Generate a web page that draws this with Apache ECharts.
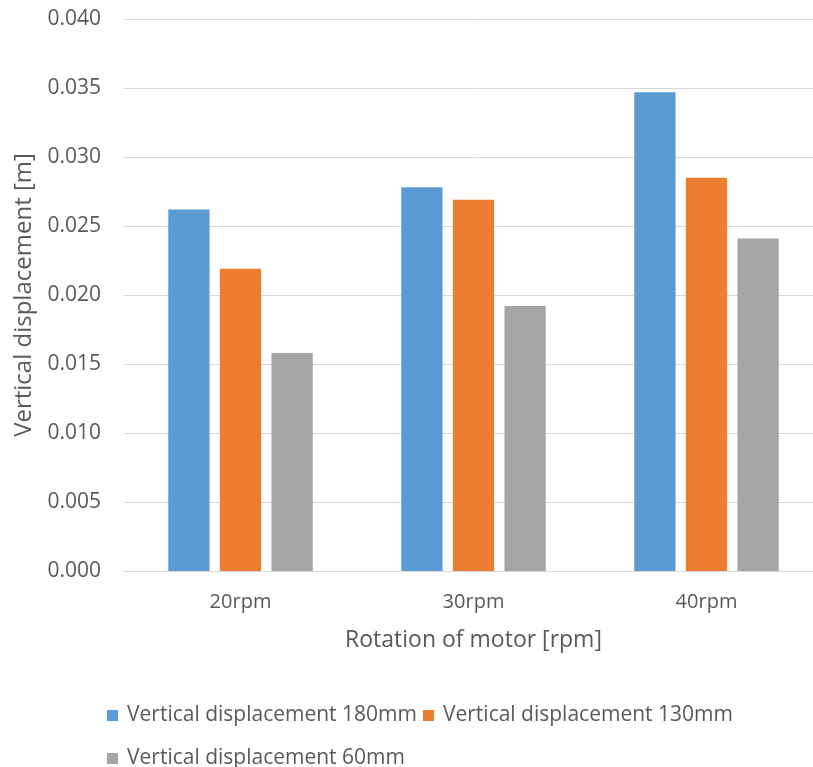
<!DOCTYPE html>
<html>
<head>
<meta charset="utf-8">
<script src="https://cdn.jsdelivr.net/npm/echarts@6/dist/echarts.min.js"></script>
<style>
  html, body { margin: 0; padding: 0; background: #fff; overflow: hidden; }
  #chart { width: 830px; height: 767px; }
</style>
</head>
<body>
<div id="chart"></div>
<script>
// Motor speeds on the x axis
const categories = ['20rpm', '30rpm', '40rpm'];

// Vertical displacement [m] for each measuring height
const disp180 = [0.0262, 0.0278, 0.0347];
const disp130 = [0.0219, 0.0269, 0.0285];
const disp60 = [0.0158, 0.0192, 0.0241];

const seriesNames = [
  'Vertical displacement 180mm',
  'Vertical displacement 130mm',
  'Vertical displacement 60mm'
];

const FONT = '"Open Sans", "Noto Sans", sans-serif';
const TEXT = '#595959';

const chart = echarts.init(document.getElementById('chart'), null, { renderer: 'canvas' });

const bar = (name, data, color) => ({
  name,
  type: 'bar',
  data,
  barGap: '25%',
  barCategoryGap: '38%',
  itemStyle: { color },
  emphasis: { disabled: true }
});

const legendText = { fontFamily: FONT, fontSize: 21, color: TEXT, padding: [0, 0, 0, 4] };

chart.setOption({
  animation: false,
  color: ['#5B9BD5', '#ED7D31', '#A5A5A5'],
  textStyle: { fontFamily: FONT, color: TEXT },
  grid: { left: 124, top: 19, width: 699, height: 552, containLabel: false },
  legend: [
    {
      data: [seriesNames[0], seriesNames[1]],
      left: 102, top: 700,
      itemWidth: 11, itemHeight: 11, itemGap: 6,
      icon: 'rect',
      textStyle: legendText
    },
    {
      data: [seriesNames[2]],
      left: 102, top: 743,
      itemWidth: 11, itemHeight: 11, itemGap: 6,
      icon: 'rect',
      textStyle: legendText
    }
  ],
  xAxis: {
    type: 'category',
    data: categories,
    name: 'Rotation of motor [rpm]',
    nameLocation: 'middle',
    nameGap: 58,
    nameTextStyle: { fontFamily: FONT, fontSize: 23, color: TEXT },
    axisLine: { show: true, lineStyle: { color: '#D9D9D9', width: 1 } },
    axisTick: { show: false },
    axisLabel: { fontFamily: FONT, fontSize: 20, color: TEXT, margin: 21 }
  },
  yAxis: {
    type: 'value',
    min: 0,
    max: 0.04,
    interval: 0.005,
    name: 'Vertical displacement [m]',
    nameLocation: 'middle',
    nameRotate: 90,
    nameGap: 87,
    nameTextStyle: { fontFamily: FONT, fontSize: 24, color: TEXT },
    axisLine: { show: false },
    axisTick: { show: false },
    axisLabel: {
      fontFamily: FONT, fontSize: 21, color: TEXT, margin: 23,
      formatter: v => v.toFixed(3)
    },
    splitLine: { lineStyle: { color: '#D9D9D9', width: 1 } }
  },
  series: [
    bar(seriesNames[0], disp180, '#5B9BD5'),
    bar(seriesNames[1], disp130, '#ED7D31'),
    bar(seriesNames[2], disp60, '#A5A5A5')
  ]
});
</script>
</body>
</html>
